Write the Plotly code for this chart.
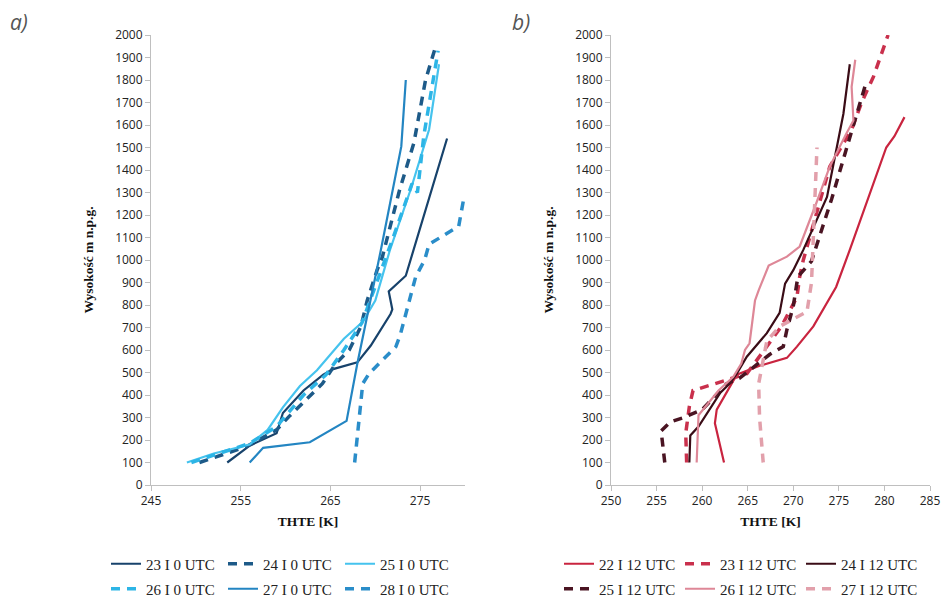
import plotly.graph_objects as go

# ---------- Panel a (0 UTC) ----------
a23_T = [253.5, 256.0, 259.0, 259.7, 262.0, 264.2, 265.3, 268.0, 269.5, 271.7, 271.9, 271.5, 273.4, 278.0]
a23_H = [100, 175, 230, 320, 420, 490, 515, 545, 620, 760, 780, 860, 930, 1540]
a24_T = [250.4, 255.6, 259.0, 260.4, 262.3, 264.1, 265.6, 267.1, 268.4, 269.1, 270.2, 270.8, 272.7, 274.3, 275.6, 276.7]
a24_H = [100, 170, 245, 305, 380, 450, 540, 600, 705, 820, 955, 1015, 1310, 1520, 1800, 1945]
a25_T = [249.0, 252.0, 256.0, 258.0, 259.7, 261.6, 263.5, 264.5, 266.5, 268.6, 270.0, 271.6, 274.0, 276.0, 277.1]
a25_H = [100, 140, 180, 245, 345, 440, 510, 555, 650, 725, 820, 1040, 1320, 1580, 1870]
a26_T = [249.5, 252.5, 256.0, 259.0, 262.0, 264.5, 266.5, 268.5, 270.2, 272.0, 274.1, 274.7, 275.4, 276.2, 277.0]
a26_H = [100, 140, 185, 260, 400, 490, 600, 720, 900, 1100, 1340, 1300, 1550, 1750, 1930]
a27_T = [256.0, 257.5, 262.7, 266.8, 268.0, 269.3, 270.6, 272.9, 273.4]
a27_H = [100, 165, 190, 285, 540, 790, 1040, 1505, 1800]
a28_T = [267.7, 268.6, 269.3, 272.3, 272.8, 273.8, 274.5, 275.5, 276.0, 279.3, 279.8]
a28_H = [100, 450, 495, 615, 670, 820, 925, 1000, 1070, 1150, 1260]

# ---------- Panel b (12 UTC) ----------
b22_T = [262.4, 261.4, 261.6, 263.8, 266.3, 269.3, 270.4, 272.2, 274.7, 276.2, 280.2, 281.1, 282.2]
b22_H = [100, 275, 335, 490, 530, 565, 615, 705, 880, 1045, 1500, 1550, 1635]
b23_T = [258.3, 258.2, 258.6, 259.0, 261.4, 264.9, 266.0, 267.1, 268.7, 270.4, 270.7, 271.1, 272.5, 274.0, 276.4, 277.5, 278.8, 280.4]
b23_H = [100, 230, 350, 420, 450, 495, 555, 615, 705, 835, 925, 1000, 1200, 1415, 1580, 1700, 1815, 2000]
b24_T = [258.6, 258.7, 259.6, 261.0, 262.0, 263.0, 263.8, 264.9, 267.1, 268.5, 269.1, 270.0, 271.1, 273.7, 274.6, 275.5, 276.2]
b24_H = [100, 220, 260, 350, 410, 450, 495, 570, 675, 765, 895, 955, 1045, 1280, 1460, 1650, 1870]
b25_T = [255.9, 255.5, 256.5, 258.0, 260.0, 262.7, 264.1, 266.0, 267.4, 268.9, 269.3, 270.0, 270.5, 272.0, 274.2, 275.8, 277.3, 278.0]
b25_H = [100, 240, 280, 300, 335, 450, 475, 535, 580, 615, 690, 795, 925, 995, 1270, 1490, 1695, 1790]
b26_T = [259.4, 259.6, 261.8, 263.4, 264.3, 264.7, 265.2, 265.8, 266.2, 267.3, 269.3, 270.7, 272.5, 274.0, 275.8, 276.6, 276.4, 276.8]
b26_H = [100, 310, 420, 480, 540, 600, 630, 820, 865, 975, 1015, 1060, 1250, 1415, 1560, 1620, 1770, 1890]
b27_T = [266.7, 266.3, 266.2, 267.1, 268.5, 271.5, 272.0, 272.2, 272.4, 272.6]
b27_H = [100, 300, 450, 640, 705, 770, 900, 1100, 1300, 1500]

names_a = ["23 I 0 UTC", "24 I 0 UTC", "25 I 0 UTC", "26 I 0 UTC", "27 I 0 UTC", "28 I 0 UTC"]
names_b = ["22 I 12 UTC", "23 I 12 UTC", "24 I 12 UTC", "25 I 12 UTC", "26 I 12 UTC", "27 I 12 UTC"]

x_ticks_a = [245, 255, 265, 275]
x_ticks_b = [250, 255, 260, 265, 270, 275, 280, 285]
y_ticks = list(range(0, 2001, 100))

colors_a = ["#17426B", "#1D5A88", "#45C3EE", "#2DB5E6", "#2385C2", "#2A8DC9"]
colors_b = ["#C9243F", "#C9304C", "#3A0C16", "#4A1422", "#DE8797", "#E2A0AB"]

SERIF = "Liberation Serif, Times New Roman, serif"
SANS = "Open Sans, sans-serif"
DASH = "9px,7px"

fig = go.Figure()

series_a = [(a23_T, a23_H), (a24_T, a24_H), (a25_T, a25_H), (a26_T, a26_H), (a27_T, a27_H), (a28_T, a28_H)]
series_b = [(b22_T, b22_H), (b23_T, b23_H), (b24_T, b24_H), (b25_T, b25_H), (b26_T, b26_H), (b27_T, b27_H)]

for i, ((t, h), nm) in enumerate(zip(series_a, names_a)):
    dashed = i % 2 == 1
    fig.add_trace(go.Scatter(
        x=t, y=h, name=nm, mode="lines", xaxis="x", yaxis="y",
        line=dict(color=colors_a[i], width=3.5 if dashed else 2.2, dash=DASH if dashed else "solid"),
        legend="legend" if i < 3 else "legend2",
    ))

for i, ((t, h), nm) in enumerate(zip(series_b, names_b)):
    dashed = i % 2 == 1
    fig.add_trace(go.Scatter(
        x=t, y=h, name=nm, mode="lines", xaxis="x2", yaxis="y2",
        line=dict(color=colors_b[i], width=3.5 if dashed else 2.2, dash=DASH if dashed else "solid"),
        legend="legend3" if i < 3 else "legend4",
    ))

ydom = [1 - 485 / 597, 1 - 35 / 597]
axis_common = dict(
    showgrid=False, zeroline=False, showline=True, linecolor="#BFBFBF", linewidth=1,
    ticks="outside", ticklen=5, tickcolor="#BFBFBF",
    tickfont=dict(family=SANS, size=12, color="#222"),
)
title_font = dict(family=SERIF, size=13.5, color="#111", weight="bold")

leg_common = dict(
    orientation="h", xanchor="left", yanchor="middle",
    font=dict(family=SERIF, size=15, color="#222"),
    entrywidthmode="pixels", itemwidth=30,
    bgcolor="rgba(0,0,0,0)", tracegroupgap=0, itemclick=False,
)

fig.update_layout(
    width=944, height=597,
    margin=dict(l=0, r=0, t=0, b=0, autoexpand=False),
    paper_bgcolor="white", plot_bgcolor="white",
    xaxis=dict(domain=[151 / 944, 465 / 944], range=[245, 280], tickvals=x_ticks_a,
               anchor="y", title=dict(text="THTE [K]", font=title_font, standoff=8), **axis_common),
    yaxis=dict(domain=ydom, range=[0, 2000], tickvals=y_ticks, anchor="x",
               title=dict(text="Wysokość m n.p.g.", font=title_font, standoff=18), **axis_common),
    xaxis2=dict(domain=[611 / 944, 930 / 944], range=[250, 285], tickvals=x_ticks_b,
                anchor="y2", title=dict(text="THTE [K]", font=title_font, standoff=8), **axis_common),
    yaxis2=dict(domain=ydom, range=[0, 2000], tickvals=y_ticks, anchor="x2",
                title=dict(text="Wysokość m n.p.g.", font=title_font, standoff=18), **axis_common),
    legend=dict(x=106 / 944, y=1 - 564 / 597, entrywidth=72, **leg_common),
    legend2=dict(x=106 / 944, y=1 - 589 / 597, entrywidth=72, **leg_common),
    legend3=dict(x=559 / 944, y=1 - 564 / 597, entrywidth=76, **leg_common),
    legend4=dict(x=559 / 944, y=1 - 589 / 597, entrywidth=76, **leg_common),
    annotations=[
        dict(text="<i>a)</i>", x=8 / 944, y=1 - 22 / 597, xref="paper", yref="paper", showarrow=False,
             xanchor="left", yanchor="middle",
             font=dict(family=SANS, size=21, color="#555")),
        dict(text="<i>b)</i>", x=510 / 944, y=1 - 22 / 597, xref="paper", yref="paper", showarrow=False,
             xanchor="left", yanchor="middle",
             font=dict(family=SANS, size=21, color="#555")),
    ],
)

fig.write_html(
    "out.html",
    config={"displayModeBar": False},
    post_script="document.body.style.margin='0';document.body.style.overflow='hidden';",
)
